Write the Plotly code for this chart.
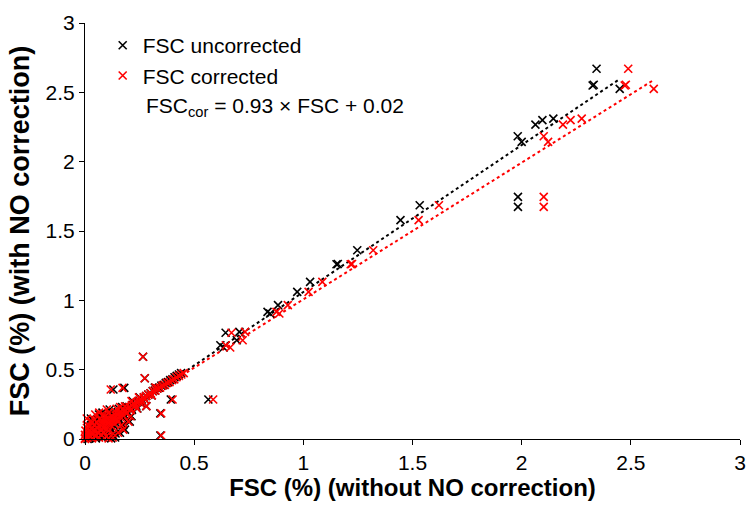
import plotly.graph_objects as go

# FSC (%) without NO correction – uncorrected series (black)
fsc_uncorrected_x = [
    2.343, 2.325, 2.330, 2.449, 2.063, 2.095, 2.145, 1.982, 2.000, 1.983, 1.983,
    1.533, 1.445, 1.247, 1.152, 1.158, 1.031, 0.972, 0.884, 0.836, 0.848,
    0.644, 0.707, 0.620, 0.635, 0.695, 0.565,
    0.020, 0.025, 0.030, 0.030, 0.035, 0.040, 0.040, 0.045, 0.050, 0.050,
    0.055, 0.060, 0.060, 0.065, 0.070, 0.070, 0.075, 0.080, 0.080, 0.085,
    0.090, 0.090, 0.095, 0.100, 0.100, 0.105, 0.110, 0.110, 0.115, 0.120,
    0.120, 0.125, 0.130, 0.135, 0.140, 0.140, 0.145, 0.150, 0.155, 0.160,
    0.165, 0.170, 0.175, 0.180, 0.190, 0.195, 0.200, 0.210, 0.215, 0.220,
    0.230, 0.235, 0.240, 0.250, 0.255, 0.260, 0.270, 0.275, 0.280, 0.290,
    0.300, 0.305, 0.310, 0.320, 0.330, 0.340, 0.350, 0.360, 0.370, 0.380,
    0.390, 0.400, 0.410, 0.420, 0.430, 0.440,
    0.027, 0.050, 0.064, 0.113, 0.155, 0.218, 0.281, 0.266, 0.274, 0.130,
    0.180, 0.393, 0.345, 0.345, 0.080, 0.138, 0.213, 0.183, 0.160, 0.138,
    0.175, 0.205, 0.120, 0.100, 0.060, 0.030, 0.045, 0.170, 0.120, 0.240,
    0.022, 0.028, 0.015, 0.012, 0.150, 0.190, 0.250, 0.320, 0.105, 0.085,
]

# FSC (%) corrected series (red)
fsc_corrected_x = [
    2.488, 2.472, 2.477, 2.605, 2.189, 2.224, 2.275, 2.101, 2.121, 2.101, 2.101,
    1.621, 1.528, 1.320, 1.217, 1.223, 1.087, 1.024, 0.929, 0.877, 0.890,
    0.671, 0.733, 0.645, 0.665, 0.722, 0.587,
    0.000, 0.005, 0.011, 0.011, 0.016, 0.022, 0.022, 0.027, 0.032, 0.032,
    0.038, 0.043, 0.043, 0.048, 0.054, 0.054, 0.059, 0.064, 0.064, 0.070,
    0.075, 0.075, 0.081, 0.086, 0.086, 0.091, 0.097, 0.097, 0.102, 0.108,
    0.108, 0.113, 0.118, 0.124, 0.129, 0.129, 0.134, 0.140, 0.145, 0.151,
    0.156, 0.161, 0.167, 0.172, 0.183, 0.188, 0.194, 0.204, 0.210, 0.215,
    0.226, 0.231, 0.237, 0.247, 0.253, 0.258, 0.269, 0.274, 0.280, 0.290,
    0.301, 0.306, 0.312, 0.323, 0.333, 0.344, 0.355, 0.366, 0.376, 0.387,
    0.398, 0.409, 0.419, 0.430, 0.441, 0.452,
    0.008, 0.032, 0.047, 0.100, 0.145, 0.213, 0.281, 0.265, 0.273, 0.118,
    0.172, 0.401, 0.349, 0.349, 0.065, 0.127, 0.208, 0.175, 0.151, 0.127,
    0.167, 0.199, 0.108, 0.086, 0.043, 0.011, 0.027, 0.161, 0.108, 0.237,
    0.002, 0.009, 0.000, 0.000, 0.140, 0.183, 0.247, 0.323, 0.091, 0.070,
]

# FSC (%) with NO correction (shared y values)
fsc_with_no = [
    2.670, 2.549, 2.555, 2.525, 2.267, 2.300, 2.310, 2.183, 2.143, 1.746, 1.674,
    1.686, 1.578, 1.361, 1.260, 1.262, 1.133, 1.061, 0.965, 0.917, 0.905,
    0.766, 0.773, 0.676, 0.660, 0.712, 0.285,
    0.005, 0.020, 0.040, 0.010, 0.060, 0.025, 0.090, 0.050, 0.005, 0.075,
    0.035, 0.100, 0.060, 0.020, 0.080, 0.120, 0.045, 0.095, 0.010, 0.065,
    0.130, 0.030, 0.105, 0.080, 0.050, 0.140, 0.115, 0.020, 0.090, 0.150,
    0.060, 0.125, 0.100, 0.160, 0.135, 0.040, 0.110, 0.170, 0.145, 0.125,
    0.185, 0.160, 0.195, 0.175, 0.205, 0.185, 0.220, 0.230, 0.210, 0.245,
    0.255, 0.240, 0.265, 0.275, 0.260, 0.285, 0.300, 0.285, 0.310, 0.320,
    0.330, 0.315, 0.345, 0.350, 0.365, 0.370, 0.385, 0.390, 0.405, 0.410,
    0.425, 0.430, 0.445, 0.455, 0.465, 0.475,
    0.148, 0.120, 0.177, 0.213, 0.218, 0.273, 0.237, 0.593, 0.438, 0.357,
    0.369, 0.285, 0.185, 0.025, 0.190, 0.140, 0.164, 0.068, 0.045, 0.011,
    0.100, 0.125, 0.005, 0.175, 0.140, 0.100, 0.130, 0.230, 0.190, 0.220,
    0.060, 0.080, 0.030, 0.000, 0.195, 0.235, 0.300, 0.370, 0.160, 0.150,
]

# Linear trendlines: slope, intercept
trend_uncorrected = [1.06, 0.0]
trend_corrected = [0.986, 0.021]

series_names = ["FSC uncorrected", "FSC corrected"]
series_colors = ["#000000", "#ff0000"]
formula_text = "FSC<sub>cor</sub> = 0.93 × FSC + 0.02"

x_title = "FSC (%) (without NO correction)"
y_title = "FSC (%) (with NO correction)"
tick_vals = [0, 0.5, 1, 1.5, 2, 2.5, 3]
tick_text = ["0", "0.5", "1", "1.5", "2", "2.5", "3"]

FONT = "Arial, 'Liberation Sans', sans-serif"

fig = go.Figure()

for xs, (slope, icpt), col in [
    (fsc_uncorrected_x, trend_uncorrected, series_colors[0]),
    (fsc_corrected_x, trend_corrected, series_colors[1]),
]:
    x0, x1 = min(xs), max(xs)
    fig.add_trace(go.Scatter(
        x=[x0, x1], y=[slope * x0 + icpt, slope * x1 + icpt],
        mode="lines", line=dict(color=col, width=2, dash="dot"),
        showlegend=False, hoverinfo="skip",
    ))

for xs, name, col in [
    (fsc_uncorrected_x, series_names[0], series_colors[0]),
    (fsc_corrected_x, series_names[1], series_colors[1]),
]:
    fig.add_trace(go.Scatter(
        x=xs, y=fsc_with_no, mode="markers", name=name,
        marker=dict(symbol="x-thin", size=8, color=col,
                    line=dict(color=col, width=1.6)),
        cliponaxis=False,
    ))

axis_common = dict(
    range=[0, 3], tickvals=tick_vals, ticktext=tick_text,
    showline=True, linecolor="#000000", linewidth=1,
    ticks="outside", ticklen=5, tickcolor="#000000",
    showgrid=False, zeroline=False,
    tickfont=dict(family=FONT, size=21, color="#000000"),
)

fig.update_layout(
    width=752, height=506,
    margin=dict(l=85, r=6, t=23, b=67),
    paper_bgcolor="white", plot_bgcolor="white",
    font=dict(family=FONT, color="#000000"),
    xaxis=dict(**axis_common,
               title=dict(text="<b>" + x_title + "</b>",
                          font=dict(family=FONT, size=24), standoff=4)),
    yaxis=dict(**axis_common,
               title=dict(text="<b>" + y_title + "</b>",
                          font=dict(family=FONT, size=27), standoff=8)),
    legend=dict(x=0.027, y=0.995, xanchor="left", yanchor="top",
                font=dict(family=FONT, size=21), bgcolor="rgba(0,0,0,0)",
                borderwidth=0, tracegroupgap=0),
    annotations=[dict(
        text=formula_text, xref="paper", yref="paper",
        x=0.0907, y=0.799, xanchor="left", yanchor="middle",
        showarrow=False, font=dict(family=FONT, size=21, color="#000000"),
    )],
)

fig.write_html("out.html")
